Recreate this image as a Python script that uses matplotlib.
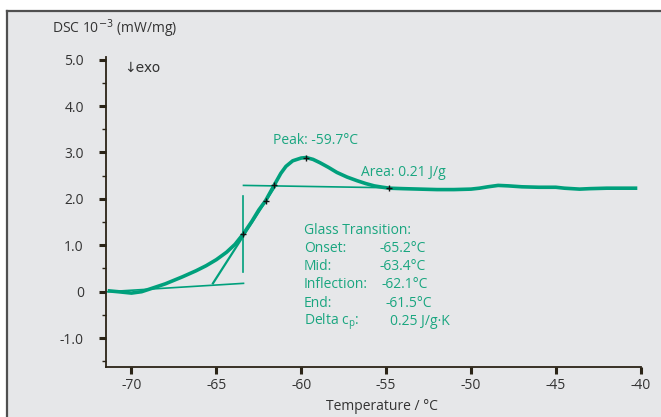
import matplotlib
matplotlib.use("Agg")
import matplotlib.pyplot as plt
from matplotlib.patches import Rectangle
from matplotlib.lines import Line2D

plt.rcParams['font.family'] = ['Open Sans', 'DejaVu Sans']

# ---- data ----
temperature = [-71.4, -70.8, -70.0, -69.4, -68.9, -68.0, -67.0, -66.2, -65.6, -65.0,
               -64.4, -63.9, -63.4, -62.9, -62.5, -62.1, -61.6, -61.2, -60.9, -60.5,
               -60.0, -59.7, -59.3, -58.9, -58.4, -57.9, -57.3, -56.7, -56.2, -55.7,
               -55.2, -54.8, -54.0, -53.0, -52.0, -51.0, -50.0, -49.5, -49.0, -48.4,
               -47.8, -47.0, -46.0, -45.0, -44.5, -43.6, -43.0, -42.0, -41.0, -40.2]
dsc = [0.02, 0.00, -0.03, 0.00, 0.06, 0.17, 0.32, 0.45, 0.56, 0.69,
       0.85, 1.02, 1.25, 1.52, 1.76, 1.96, 2.29, 2.55, 2.70, 2.82,
       2.88, 2.89, 2.85, 2.78, 2.68, 2.57, 2.47, 2.39, 2.33, 2.28,
       2.25, 2.23, 2.22, 2.21, 2.20, 2.20, 2.21, 2.23, 2.26, 2.29,
       2.28, 2.26, 2.25, 2.25, 2.23, 2.21, 2.22, 2.23, 2.23, 2.23]

lower_baseline_x = [-71.4, -63.4]
lower_baseline_y = [0.00, 0.18]
upper_baseline_x = [-63.4, -55.0]
upper_baseline_y = [2.29, 2.24]
tangent_x = [-65.2, -61.5]
tangent_y = [0.18, 2.29]
mid_line_x = [-63.4, -63.4]
mid_line_y = [0.42, 2.06]

marker_x = [-63.4, -62.1, -61.6, -59.7, -54.8]
marker_y = [1.25, 1.96, 2.30, 2.89, 2.23]

x_ticks = [-70, -65, -60, -55, -50, -45, -40]
x_ticklabels = ['-70', '-65', '-60', '-55', '-50', '-45', '-40']
y_ticks = [-1.0, 0.0, 1.0, 2.0, 3.0, 4.0, 5.0]
y_ticklabels = ['-1.0', '0', '1.0', '2.0', '3.0', '4.0', '5.0']
y_minor = [-1.5, -0.5, 0.5, 1.5, 2.5, 3.5, 4.5]

gt_labels = ['Onset:', 'Mid:', 'Inflection:', 'End:', 'Delta c$_\\mathregular{p}$:']
gt_values = ['-65.2°C', '-63.4°C', '-62.1°C', '-61.5°C', '0.25 J/g·K']

# ---- styling ----
W, H = 661, 417
GREEN = '#00a07c'
TGREEN = '#1aa680'
AXC = '#2b2417'
TXT = '#333333'
FS = 10

fig = plt.figure(figsize=(W / 100, H / 100), dpi=100)
fig.patch.set_facecolor('white')

# grey panel with dark top/left border
panel = Rectangle((7 / W, 0), 1 - 7 / W, (H - 10.7) / H, transform=fig.transFigure,
                  facecolor='#e6e7e9', edgecolor='none', zorder=-10)
fig.patches.append(panel)
fig.add_artist(Line2D([7 / W, 1], [(H - 10.7) / H] * 2, transform=fig.transFigure,
                      color='#505050', lw=1.6, zorder=-5))
fig.add_artist(Line2D([7 / W, 7 / W], [0, (H - 10.7) / H], transform=fig.transFigure,
                      color='#505050', lw=1.6, zorder=-5))

ax = fig.add_axes([106 / W, 50.3 / H, (640.7 - 106) / W, (366.7 - 57.3) / H])
ax.set_zorder(2)
ax.set_facecolor('none')
ax.set_xlim(-71.5, -40.0)
ax.set_ylim(-1.616, 5.05)

for s in ['top', 'right']:
    ax.spines[s].set_visible(False)
for s in ['left', 'bottom']:
    ax.spines[s].set_color(AXC)
    ax.spines[s].set_linewidth(1.3)

ax.set_xticks(x_ticks)
ax.set_xticklabels(x_ticklabels)
ax.set_yticks(y_ticks)
ax.set_yticklabels(y_ticklabels)
ax.set_yticks(y_minor, minor=True)
ax.tick_params(axis='both', which='major', direction='out', length=5, width=2.2,
               color=AXC, labelsize=FS, labelcolor=TXT)
ax.tick_params(axis='y', which='major', pad=11)
ax.tick_params(axis='x', which='major', pad=3)
ax.tick_params(axis='y', which='minor', direction='out', length=3, width=1, color=AXC)

# curve and construction lines
ax.plot(temperature, dsc, color=GREEN, lw=2.6, solid_capstyle='butt', zorder=3)
ax.plot(lower_baseline_x, lower_baseline_y, color=GREEN, lw=1.2, zorder=2)
ax.plot(upper_baseline_x, upper_baseline_y, color=GREEN, lw=1.2, zorder=2)
ax.plot(tangent_x, tangent_y, color=GREEN, lw=1.6, zorder=2)
ax.plot(mid_line_x, mid_line_y, color=GREEN, lw=1.2, zorder=2)
ax.plot(marker_x, marker_y, linestyle='none', marker='+', color='#111111',
        markersize=4, mew=1.0, zorder=4)

# texts
fig.text(52.5 / W, 1 - 29 / H, 'DSC 10$^{-3}$ (mW/mg)', fontsize=FS, color=TXT,
         ha='left', va='center')
fig.text(124 / W, 1 - 68 / H, '↓exo', fontsize=FS, color=TXT, ha='left', va='center',
         family=['DejaVu Sans'])
fig.text(382 / W, 1 - 406 / H, 'Temperature / °C', fontsize=FS, color=TXT,
         ha='center', va='center')

fig.text(273 / W, 1 - 140 / H, 'Peak: -59.7°C', fontsize=FS, color=TGREEN,
         ha='left', va='center')
fig.text(361 / W, 1 - 172 / H, 'Area: 0.21 J/g', fontsize=FS, color=TGREEN,
         ha='left', va='center')

fig.text(304 / W, 1 - 230 / H, 'Glass Transition:', fontsize=FS, color=TGREEN,
         ha='left', va='center')
value_x = [380, 380, 381.5, 385, 390]
for i, (lab, val) in enumerate(zip(gt_labels, gt_values)):
    yy = 1 - (248.3 + i * 18.35) / H
    fig.text(304 / W, yy, lab, fontsize=FS, color=TGREEN, ha='left', va='center')
    fig.text(value_x[i] / W, yy, val, fontsize=FS, color=TGREEN, ha='left', va='center')

fig.savefig('out.png', dpi=100, facecolor=fig.get_facecolor())
